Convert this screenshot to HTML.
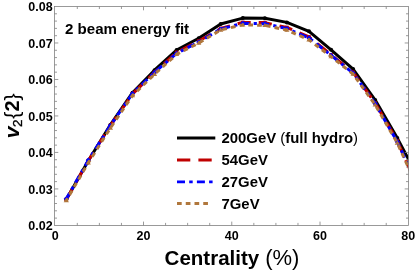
<!DOCTYPE html>
<html><head><meta charset="utf-8"><title>v2 fit</title>
<style>
html,body{margin:0;padding:0;background:#fff;}
body{width:415px;height:271px;overflow:hidden;}
svg{display:block;font-family:"Liberation Sans",sans-serif;opacity:0.999;will-change:transform;}
</style></head><body>
<svg width="415" height="271" viewBox="0 0 415 271">
<rect width="415" height="271" fill="#fff"/>
<defs><clipPath id="c"><rect x="54.5" y="6.5" width="354.0" height="218.9"/></clipPath></defs>
<g clip-path="url(#c)" fill="none" stroke-linejoin="round" stroke-linecap="butt">
<polyline points="66.3,199.5 88.3,160.7 110.4,124.9 132.5,92.7 154.5,70.2 176.6,50.0 198.7,38.2 220.7,24.0 242.8,18.1 264.9,18.2 286.9,22.4 309.0,31.3 331.1,49.8 353.1,69.1 375.2,100.0 397.3,138.1 419.3,179.5" stroke="#000000" stroke-width="3"/>
<g fill="#000000"><circle cx="66.3" cy="199.5" r="2.0"/><circle cx="88.3" cy="160.7" r="2.0"/><circle cx="110.4" cy="124.9" r="2.0"/><circle cx="132.5" cy="92.7" r="2.0"/><circle cx="154.5" cy="70.2" r="2.0"/><circle cx="176.6" cy="50.0" r="2.0"/><circle cx="198.7" cy="38.2" r="2.0"/><circle cx="220.7" cy="24.0" r="2.0"/><circle cx="242.8" cy="18.1" r="2.0"/><circle cx="264.9" cy="18.2" r="2.0"/><circle cx="286.9" cy="22.4" r="2.0"/><circle cx="309.0" cy="31.3" r="2.0"/><circle cx="331.1" cy="49.8" r="2.0"/><circle cx="353.1" cy="69.1" r="2.0"/><circle cx="375.2" cy="100.0" r="2.0"/><circle cx="397.3" cy="138.1" r="2.0"/><circle cx="419.3" cy="179.5" r="2.0"/></g>
<polyline points="66.3,199.4 88.3,160.7 110.4,125.6 132.5,94.0 154.5,72.4 176.6,52.4 198.7,41.0 220.7,28.5 242.8,22.4 264.9,22.6 286.9,27.5 309.0,36.9 331.1,54.8 353.1,72.4 375.2,103.1 397.3,141.0 419.3,191.0" stroke="#c00000" stroke-width="3" stroke-dasharray="13.2 8" stroke-dashoffset="1.4"/>
<g fill="#c00000"><rect x="64.5" y="197.6" width="3.6" height="3.6"/><rect x="86.5" y="158.9" width="3.6" height="3.6"/><rect x="108.6" y="123.8" width="3.6" height="3.6"/><rect x="130.7" y="92.2" width="3.6" height="3.6"/><rect x="152.7" y="70.6" width="3.6" height="3.6"/><rect x="174.8" y="50.6" width="3.6" height="3.6"/><rect x="196.9" y="39.2" width="3.6" height="3.6"/><rect x="218.9" y="26.7" width="3.6" height="3.6"/><rect x="241.0" y="20.6" width="3.6" height="3.6"/><rect x="263.1" y="20.8" width="3.6" height="3.6"/><rect x="285.1" y="25.7" width="3.6" height="3.6"/><rect x="307.2" y="35.1" width="3.6" height="3.6"/><rect x="329.3" y="53.0" width="3.6" height="3.6"/><rect x="351.3" y="70.6" width="3.6" height="3.6"/><rect x="373.4" y="101.3" width="3.6" height="3.6"/><rect x="395.5" y="139.2" width="3.6" height="3.6"/><rect x="417.5" y="189.2" width="3.6" height="3.6"/></g>
<polyline points="66.3,198.8 88.3,160.2 110.4,125.5 132.5,93.5 154.5,72.4 176.6,53.4 198.7,42.0 220.7,29.0 242.8,23.3 264.9,23.7 286.9,28.6 309.0,37.9 331.1,55.3 353.1,73.1 375.2,103.6 397.3,141.7 419.3,189.5" stroke="#0000ff" stroke-width="3" stroke-dasharray="7.9 4.35 3.2 4.35" stroke-dashoffset="1.45"/>
<g fill="#0000ff"><path d="M63.7 198.8L66.3 196.2L68.9 198.8L66.3 201.4Z"/><path d="M85.7 160.2L88.3 157.6L90.9 160.2L88.3 162.8Z"/><path d="M107.8 125.5L110.4 122.9L113.0 125.5L110.4 128.1Z"/><path d="M129.9 93.5L132.5 90.9L135.1 93.5L132.5 96.1Z"/><path d="M151.9 72.4L154.5 69.8L157.1 72.4L154.5 75.0Z"/><path d="M174.0 53.4L176.6 50.8L179.2 53.4L176.6 56.0Z"/><path d="M196.1 42.0L198.7 39.4L201.3 42.0L198.7 44.6Z"/><path d="M218.1 29.0L220.7 26.4L223.3 29.0L220.7 31.6Z"/><path d="M240.2 23.3L242.8 20.7L245.4 23.3L242.8 25.9Z"/><path d="M262.3 23.7L264.9 21.1L267.5 23.7L264.9 26.3Z"/><path d="M284.3 28.6L286.9 26.0L289.5 28.6L286.9 31.2Z"/><path d="M306.4 37.9L309.0 35.3L311.6 37.9L309.0 40.5Z"/><path d="M328.5 55.3L331.1 52.7L333.7 55.3L331.1 57.9Z"/><path d="M350.5 73.1L353.1 70.5L355.7 73.1L353.1 75.7Z"/><path d="M372.6 103.6L375.2 101.0L377.8 103.6L375.2 106.2Z"/><path d="M394.7 141.7L397.3 139.1L399.9 141.7L397.3 144.3Z"/><path d="M416.7 189.5L419.3 186.9L421.9 189.5L419.3 192.1Z"/></g>
<polyline points="66.3,200.5 88.3,162.8 110.4,128.0 132.5,95.6 154.5,74.2 176.6,54.4 198.7,43.0 220.7,30.0 242.8,24.9 264.9,25.3 286.9,30.1 309.0,39.9 331.1,56.6 353.1,74.1 375.2,104.9 397.3,143.0 419.3,191.5" stroke="#b0773c" stroke-width="3" stroke-dasharray="4.7 4.14" stroke-dashoffset="2.15"/>
<g fill="#b0773c"><path d="M63.7 202.2L66.3 198.1L68.9 202.2Z"/><path d="M85.7 164.5L88.3 160.4L90.9 164.5Z"/><path d="M107.8 129.7L110.4 125.6L113.0 129.7Z"/><path d="M129.9 97.3L132.5 93.2L135.1 97.3Z"/><path d="M151.9 75.9L154.5 71.8L157.1 75.9Z"/><path d="M174.0 56.1L176.6 52.0L179.2 56.1Z"/><path d="M196.1 44.7L198.7 40.6L201.3 44.7Z"/><path d="M218.1 31.7L220.7 27.6L223.3 31.7Z"/><path d="M240.2 26.6L242.8 22.5L245.4 26.6Z"/><path d="M262.3 27.0L264.9 22.9L267.5 27.0Z"/><path d="M284.3 31.8L286.9 27.7L289.5 31.8Z"/><path d="M306.4 41.6L309.0 37.5L311.6 41.6Z"/><path d="M328.5 58.3L331.1 54.2L333.7 58.3Z"/><path d="M350.5 75.8L353.1 71.7L355.7 75.8Z"/><path d="M372.6 106.6L375.2 102.5L377.8 106.6Z"/><path d="M394.7 144.7L397.3 140.6L399.9 144.7Z"/><path d="M416.7 193.2L419.3 189.1L421.9 193.2Z"/></g>
</g>
<g stroke="#808080" stroke-width="0.8" fill="none">
<rect x="54.5" y="6.5" width="354.0" height="218.9"/>
<line x1="77.31" y1="225.4" x2="77.31" y2="222.9"/><line x1="77.31" y1="6.5" x2="77.31" y2="9.0"/><line x1="99.38" y1="225.4" x2="99.38" y2="222.9"/><line x1="99.38" y1="6.5" x2="99.38" y2="9.0"/><line x1="121.45" y1="225.4" x2="121.45" y2="222.9"/><line x1="121.45" y1="6.5" x2="121.45" y2="9.0"/><line x1="143.51" y1="225.4" x2="143.51" y2="221.6"/><line x1="143.51" y1="6.5" x2="143.51" y2="10.3"/><line x1="165.57" y1="225.4" x2="165.57" y2="222.9"/><line x1="165.57" y1="6.5" x2="165.57" y2="9.0"/><line x1="187.64" y1="225.4" x2="187.64" y2="222.9"/><line x1="187.64" y1="6.5" x2="187.64" y2="9.0"/><line x1="209.71" y1="225.4" x2="209.71" y2="222.9"/><line x1="209.71" y1="6.5" x2="209.71" y2="9.0"/><line x1="231.77" y1="225.4" x2="231.77" y2="221.6"/><line x1="231.77" y1="6.5" x2="231.77" y2="10.3"/><line x1="253.84" y1="225.4" x2="253.84" y2="222.9"/><line x1="253.84" y1="6.5" x2="253.84" y2="9.0"/><line x1="275.90" y1="225.4" x2="275.90" y2="222.9"/><line x1="275.90" y1="6.5" x2="275.90" y2="9.0"/><line x1="297.97" y1="225.4" x2="297.97" y2="222.9"/><line x1="297.97" y1="6.5" x2="297.97" y2="9.0"/><line x1="320.03" y1="225.4" x2="320.03" y2="221.6"/><line x1="320.03" y1="6.5" x2="320.03" y2="10.3"/><line x1="342.10" y1="225.4" x2="342.10" y2="222.9"/><line x1="342.10" y1="6.5" x2="342.10" y2="9.0"/><line x1="364.16" y1="225.4" x2="364.16" y2="222.9"/><line x1="364.16" y1="6.5" x2="364.16" y2="9.0"/><line x1="386.23" y1="225.4" x2="386.23" y2="222.9"/><line x1="386.23" y1="6.5" x2="386.23" y2="9.0"/><line x1="54.5" y1="218.10" x2="57.0" y2="218.10"/><line x1="408.5" y1="218.10" x2="406.0" y2="218.10"/><line x1="54.5" y1="210.81" x2="57.0" y2="210.81"/><line x1="408.5" y1="210.81" x2="406.0" y2="210.81"/><line x1="54.5" y1="203.51" x2="57.0" y2="203.51"/><line x1="408.5" y1="203.51" x2="406.0" y2="203.51"/><line x1="54.5" y1="196.21" x2="57.0" y2="196.21"/><line x1="408.5" y1="196.21" x2="406.0" y2="196.21"/><line x1="54.5" y1="188.92" x2="58.3" y2="188.92"/><line x1="408.5" y1="188.92" x2="404.7" y2="188.92"/><line x1="54.5" y1="181.62" x2="57.0" y2="181.62"/><line x1="408.5" y1="181.62" x2="406.0" y2="181.62"/><line x1="54.5" y1="174.32" x2="57.0" y2="174.32"/><line x1="408.5" y1="174.32" x2="406.0" y2="174.32"/><line x1="54.5" y1="167.03" x2="57.0" y2="167.03"/><line x1="408.5" y1="167.03" x2="406.0" y2="167.03"/><line x1="54.5" y1="159.73" x2="57.0" y2="159.73"/><line x1="408.5" y1="159.73" x2="406.0" y2="159.73"/><line x1="54.5" y1="152.43" x2="58.3" y2="152.43"/><line x1="408.5" y1="152.43" x2="404.7" y2="152.43"/><line x1="54.5" y1="145.14" x2="57.0" y2="145.14"/><line x1="408.5" y1="145.14" x2="406.0" y2="145.14"/><line x1="54.5" y1="137.84" x2="57.0" y2="137.84"/><line x1="408.5" y1="137.84" x2="406.0" y2="137.84"/><line x1="54.5" y1="130.54" x2="57.0" y2="130.54"/><line x1="408.5" y1="130.54" x2="406.0" y2="130.54"/><line x1="54.5" y1="123.25" x2="57.0" y2="123.25"/><line x1="408.5" y1="123.25" x2="406.0" y2="123.25"/><line x1="54.5" y1="115.95" x2="58.3" y2="115.95"/><line x1="408.5" y1="115.95" x2="404.7" y2="115.95"/><line x1="54.5" y1="108.65" x2="57.0" y2="108.65"/><line x1="408.5" y1="108.65" x2="406.0" y2="108.65"/><line x1="54.5" y1="101.36" x2="57.0" y2="101.36"/><line x1="408.5" y1="101.36" x2="406.0" y2="101.36"/><line x1="54.5" y1="94.06" x2="57.0" y2="94.06"/><line x1="408.5" y1="94.06" x2="406.0" y2="94.06"/><line x1="54.5" y1="86.76" x2="57.0" y2="86.76"/><line x1="408.5" y1="86.76" x2="406.0" y2="86.76"/><line x1="54.5" y1="79.47" x2="58.3" y2="79.47"/><line x1="408.5" y1="79.47" x2="404.7" y2="79.47"/><line x1="54.5" y1="72.17" x2="57.0" y2="72.17"/><line x1="408.5" y1="72.17" x2="406.0" y2="72.17"/><line x1="54.5" y1="64.87" x2="57.0" y2="64.87"/><line x1="408.5" y1="64.87" x2="406.0" y2="64.87"/><line x1="54.5" y1="57.58" x2="57.0" y2="57.58"/><line x1="408.5" y1="57.58" x2="406.0" y2="57.58"/><line x1="54.5" y1="50.28" x2="57.0" y2="50.28"/><line x1="408.5" y1="50.28" x2="406.0" y2="50.28"/><line x1="54.5" y1="42.98" x2="58.3" y2="42.98"/><line x1="408.5" y1="42.98" x2="404.7" y2="42.98"/><line x1="54.5" y1="35.69" x2="57.0" y2="35.69"/><line x1="408.5" y1="35.69" x2="406.0" y2="35.69"/><line x1="54.5" y1="28.39" x2="57.0" y2="28.39"/><line x1="408.5" y1="28.39" x2="406.0" y2="28.39"/><line x1="54.5" y1="21.09" x2="57.0" y2="21.09"/><line x1="408.5" y1="21.09" x2="406.0" y2="21.09"/><line x1="54.5" y1="13.80" x2="57.0" y2="13.80"/><line x1="408.5" y1="13.80" x2="406.0" y2="13.80"/>
</g>
<g font-weight="bold" font-size="12.5px" fill="#000"><text x="55.2" y="239.9" text-anchor="middle">0</text><text x="143.5" y="239.9" text-anchor="middle">20</text><text x="231.8" y="239.9" text-anchor="middle">40</text><text x="320.0" y="239.9" text-anchor="middle">60</text><text x="408.3" y="239.9" text-anchor="middle">80</text><text x="52.7" y="230.1" text-anchor="end">0.02</text><text x="52.7" y="193.6" text-anchor="end">0.03</text><text x="52.7" y="157.1" text-anchor="end">0.04</text><text x="52.7" y="120.7" text-anchor="end">0.05</text><text x="52.7" y="84.2" text-anchor="end">0.06</text><text x="52.7" y="47.7" text-anchor="end">0.07</text><text x="52.7" y="11.2" text-anchor="end">0.08</text></g>
<text x="65" y="34.3" font-weight="bold" font-size="15.1px">2 beam energy fit</text>
<g fill="none">
<line x1="177" y1="138" x2="215.3" y2="138" stroke="#000000" stroke-width="3"/>
<line x1="177" y1="160" x2="215.3" y2="160" stroke="#c00000" stroke-width="2.8" stroke-dasharray="13.3 8.1"/>
<line x1="177" y1="181.8" x2="215.3" y2="181.8" stroke="#0000ff" stroke-width="2.8" stroke-dasharray="8 4.2 3.5 4.2"/>
<line x1="177" y1="203.5" x2="210" y2="203.5" stroke="#b0773c" stroke-width="2.8" stroke-dasharray="4.7 4.05"/>
</g>
<g font-weight="bold" font-size="14.9px" fill="#000">
<text x="221.5" y="143">200GeV <tspan font-weight="normal">(</tspan>full hydro<tspan font-weight="normal">)</tspan></text>
<text x="221.5" y="165">54GeV</text>
<text x="221.5" y="187">27GeV</text>
<text x="221.5" y="209">7GeV</text>
</g>
<text x="164.6" y="264.8" font-size="20.5px" font-weight="bold">Centrality</text>
<text x="265.2" y="265.2" font-size="22px">(%)</text>
<text transform="translate(18.5,138.3) rotate(-90)" font-size="20px"><tspan x="0" font-size="21px" font-weight="bold" font-style="italic">v</tspan><tspan x="11.3" dy="3.8" font-size="13.5px" stroke="#000" stroke-width="0.35">2</tspan><tspan x="19.5" dy="-3.8" font-size="21px">{</tspan><tspan x="26.8" font-weight="bold">2</tspan><tspan x="37.7" font-size="21px">}</tspan></text>
</svg>
</body></html>
